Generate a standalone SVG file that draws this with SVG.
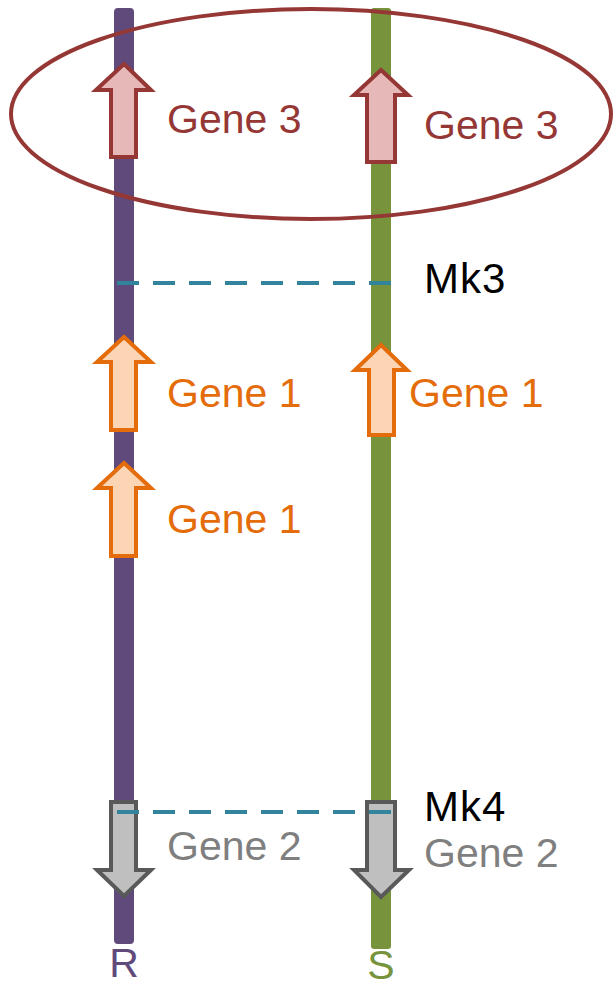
<svg xmlns="http://www.w3.org/2000/svg" width="616" height="987" viewBox="0 0 616 987">
  <style>
    text { font-family: "Liberation Sans", Arial, sans-serif; font-size: 41px; }
    .g3 { fill: #E6B9B8; stroke: #953735; stroke-width: 4; stroke-linejoin: miter; }
    .g1 { fill: #FCD5B5; stroke: #E46C0A; stroke-width: 4; }
    .g2 { fill: #BFBFBF; stroke: #595959; stroke-width: 4; }
    .t3 { fill: #953735; }
    .t1 { fill: #E46C0A; }
    .t2 { fill: #7F7F7F; }
    .mk { stroke: #31849B; stroke-width: 4; stroke-dasharray: 22 14; fill: none; }
    .mkt { fill: #000; font-size: 42px; letter-spacing: 1px; }
  </style>

  <!-- chromosomes -->
  <g id="chromosome-R">
    <rect x="114" y="8" width="20" height="936" rx="4" fill="#604A7B"/>
    <text x="124" y="977" text-anchor="middle" fill="#604A7B" font-size="35">R</text>
  </g>
  <g id="chromosome-S">
    <rect x="371" y="8" width="20" height="941" rx="3" fill="#77933C"/>
    <text x="381" y="979" text-anchor="middle" fill="#77933C" font-size="35">S</text>
  </g>

  <!-- Gene 3 -->
  <g id="gene3-R">
    <polygon class="g3" points="124,64 151,90 136,90 136,157 111,157 111,90 96,90"/>
    <text class="t3" x="167" y="133">Gene 3</text>
  </g>
  <g id="gene3-S">
    <polygon class="g3" points="381,70 408,95 395,95 395,162 367,162 367,95 354,95"/>
    <text class="t3" x="424" y="139">Gene 3</text>
  </g>

  <!-- Gene 1 -->
  <g id="gene1-R-a">
    <polygon class="g1" points="124,337 151,362 136,362 136,430 111,430 111,362 97,362"/>
    <text class="t1" x="167" y="407">Gene 1</text>
  </g>
  <g id="gene1-R-b">
    <polygon class="g1" points="124,463 151,488 136,488 136,556 111,556 111,488 97,488"/>
    <text class="t1" x="167" y="533">Gene 1</text>
  </g>
  <g id="gene1-S">
    <polygon class="g1" points="381,345 407,370 394,370 394,435 369,435 369,370 355,370"/>
    <text class="t1" x="409" y="407">Gene 1</text>
  </g>

  <!-- Gene 2 -->
  <g id="gene2-R">
    <polygon class="g2" points="111,802 136,802 136,870 151,870 124,896 97,870 111,870"/>
    <text class="t2" x="167" y="860">Gene 2</text>
  </g>
  <g id="gene2-S">
    <polygon class="g2" points="367,802 395,802 395,870 409,870 381,897 354,870 367,870"/>
    <text class="t2" x="424" y="867">Gene 2</text>
  </g>

  <!-- highlight around Gene 3 -->
  <g id="gene3-highlight">
    <ellipse cx="311" cy="114" rx="300" ry="105" fill="none" stroke="#953735" stroke-width="4"/>
  </g>

  <!-- markers -->
  <g id="connectors">
    <line class="mk" x1="117" y1="283" x2="397" y2="283"/>
    <line class="mk" x1="117" y1="812" x2="397" y2="812"/>
  </g>
  <g id="mk3">
    <text class="mkt" x="424" y="293">Mk3</text>
  </g>
  <g id="mk4">
    <text class="mkt" x="424" y="821">Mk4</text>
  </g>
</svg>
